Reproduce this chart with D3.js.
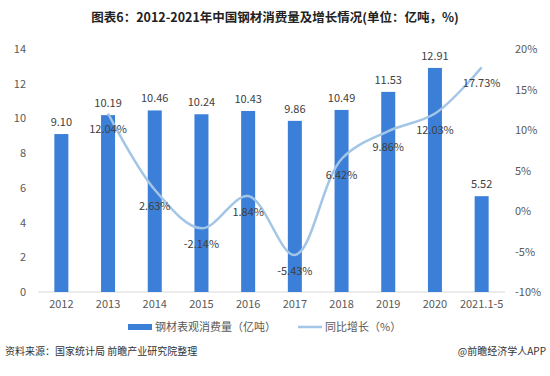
<!DOCTYPE html>
<html>
<head>
<meta charset="utf-8">
<script src="https://cdn.jsdelivr.net/npm/d3@7"></script>
<style>
  body { margin: 0; background: #fff; }
  svg text { font-family: "Noto Sans CJK SC", "Noto Sans", sans-serif; }
</style>
</head>
<body>
<div id="chart"></div>
<script>
'use strict';

const years = ['2012', '2013', '2014', '2015', '2016', '2017', '2018', '2019', '2020', '2021.1-5'];
const consumption = [9.10, 10.19, 10.46, 10.24, 10.43, 9.86, 10.49, 11.53, 12.91, 5.52];
const growth = [null, 12.04, 2.63, -2.14, 1.84, -5.43, 6.42, 9.86, 12.03, 17.73];
const leftTicks = [0, 2, 4, 6, 8, 10, 12, 14];
const rightTicks = [-10, -5, 0, 5, 10, 15, 20];

const W = 550, H = 376;
const M = { top: 49, right: 45, bottom: 84, left: 38 };
const BAR = '#3c7fd8';
const LINE = '#a3c5e6';
const TXT = '#595959';

const svg = d3.select('#chart').append('svg').attr('width', W).attr('height', H);

svg.append('text')
  .attr('x', W / 2).attr('y', 22)
  .attr('text-anchor', 'middle')
  .attr('font-size', 12.5).attr('font-weight', 'bold').attr('fill', '#222')
  .text('图表6：2012-2021年中国钢材消费量及增长情况(单位：亿吨，%)');

const x = d3.scaleBand().domain(years).range([M.left, W - M.right]).paddingInner(0.7).paddingOuter(0.35);
const yL = d3.scaleLinear().domain([0, 14]).range([H - M.bottom, M.top]);
const yR = d3.scaleLinear().domain([-10, 20]).range([H - M.bottom, M.top]);

// baseline
svg.append('line')
  .attr('x1', M.left).attr('x2', W - M.right)
  .attr('y1', yL(0)).attr('y2', yL(0))
  .attr('stroke', '#d9d9d9');

const axL = svg.append('g')
  .attr('transform', `translate(${M.left - 12},0)`)
  .call(d3.axisLeft(yL).tickValues(leftTicks).tickSize(0).tickPadding(0));
axL.select('.domain').remove();

const axR = svg.append('g')
  .attr('transform', `translate(${W - M.right + 10},0)`)
  .call(d3.axisRight(yR).tickValues(rightTicks).tickSize(0).tickPadding(0).tickFormat(d => d + '%'));
axR.select('.domain').remove();

const axB = svg.append('g')
  .attr('transform', `translate(0,${yL(0) + 8})`)
  .call(d3.axisBottom(x).tickSize(0).tickPadding(0));
axB.select('.domain').remove();

svg.selectAll('.tick text').attr('font-size', 11).attr('fill', TXT);

// bars
svg.selectAll('.bar').data(consumption).join('rect')
  .attr('class', 'bar')
  .attr('x', (d, i) => x(years[i]))
  .attr('width', x.bandwidth())
  .attr('y', d => yL(d))
  .attr('height', d => yL(0) - yL(d))
  .attr('fill', BAR);

svg.selectAll('.bar-label').data(consumption).join('text')
  .attr('class', 'bar-label')
  .attr('x', (d, i) => x(years[i]) + x.bandwidth() / 2)
  .attr('y', d => yL(d) - 8)
  .attr('text-anchor', 'middle')
  .attr('font-size', 11).attr('fill', '#404040')
  .text(d => d.toFixed(2));

// growth line
const pts = growth.map((g, i) => ({ year: years[i], g })).filter(d => d.g !== null);
const line = d3.line()
  .x(d => x(d.year) + x.bandwidth() / 2)
  .y(d => yR(d.g))
  .curve(d3.curveCatmullRom.alpha(0.5));

svg.append('path')
  .datum(pts)
  .attr('d', line)
  .attr('fill', 'none')
  .attr('stroke', LINE)
  .attr('stroke-width', 2.5);

svg.selectAll('.pct-label').data(pts).join('text')
  .attr('class', 'pct-label')
  .attr('x', d => x(d.year) + x.bandwidth() / 2)
  .attr('y', d => yR(d.g) + 20)
  .attr('text-anchor', 'middle')
  .attr('font-size', 11).attr('fill', '#404040')
  .text(d => d.g.toFixed(2) + '%');

// legend
const lg = svg.append('g').attr('transform', `translate(0,${H - 49})`);
lg.append('rect').attr('x', 128).attr('y', -3).attr('width', 24).attr('height', 6).attr('fill', BAR);
lg.append('text').attr('x', 155).attr('y', 4).attr('font-size', 11).attr('fill', TXT).text('钢材表观消费量（亿吨）');
lg.append('line').attr('x1', 298).attr('x2', 322).attr('y1', 0).attr('y2', 0).attr('stroke', LINE).attr('stroke-width', 2.5);
lg.append('text').attr('x', 325).attr('y', 4).attr('font-size', 11).attr('fill', TXT).text('同比增长（%）');

// footer
svg.append('text').attr('x', 5).attr('y', 355).attr('font-size', 10).attr('fill', '#333')
  .text('资料来源：国家统计局 前瞻产业研究院整理');
svg.append('text').attr('x', 546).attr('y', 355).attr('text-anchor', 'end').attr('font-size', 10).attr('fill', '#333')
  .text('@前瞻经济学人APP');
</script>
</body>
</html>
